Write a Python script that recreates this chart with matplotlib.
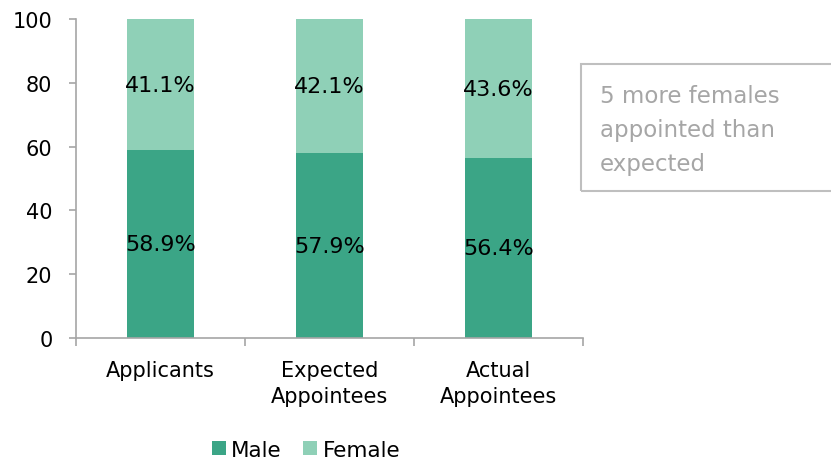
import matplotlib
matplotlib.use("Agg")
import matplotlib.pyplot as plt
import numpy as np
from matplotlib.patches import Rectangle

categories = ["Applicants", "Expected\nAppointees", "Actual\nAppointees"]
male = [58.9, 57.9, 56.4]
female = [41.1, 42.1, 43.6]
series_names = ["Male", "Female"]
yticks = [0, 20, 40, 60, 80, 100]
note = "5 more females\nappointed than\nexpected"

plt.rcParams['font.family'] = ['DejaVu Sans']
c_male = "#3BA586"
c_female = "#8FD0B7"
gray = "#A6A6A6"

fig = plt.figure(figsize=(8.31, 4.6), dpi=100)
ax = fig.add_axes([0.0915, 0.263, 0.61, 0.6935])
x = np.arange(len(categories))
w = 0.40
b1 = ax.bar(x, male, w, color=c_male, label=series_names[0])
b2 = ax.bar(x, female, w, bottom=male, color=c_female, label=series_names[1])
for i in range(len(x)):
    ax.text(x[i], male[i] / 2, f"{male[i]:.1f}%", ha="center", va="center", fontsize=16, color="black")
    ax.text(x[i], male[i] + female[i] / 2, f"{female[i]:.1f}%", ha="center", va="center", fontsize=16, color="black")

ax.set_xlim(-0.5, len(categories) - 0.5)
ax.set_ylim(0, 100)
ax.set_yticks(yticks)
ax.tick_params(axis="y", labelsize=15, length=5, color=gray, width=1.2, pad=12)
ax.set_xticks(x)
ax.set_xticklabels(categories, fontsize=15, linespacing=1.35)
ax.tick_params(axis="x", length=0, pad=16)
ax.set_xticks(np.arange(-0.5, len(categories), 1.0), minor=True)
ax.tick_params(axis="x", which="minor", length=6, color=gray, width=1.2)
for s in ["top", "right"]:
    ax.spines[s].set_visible(False)
for s in ["left", "bottom"]:
    ax.spines[s].set_color(gray)
    ax.spines[s].set_linewidth(1.2)

fig.text(0.722, 0.815, note, fontsize=16.5, color=gray, va="top", ha="left", linespacing=1.6)
fig.patches.append(Rectangle((0.699, 0.583), 0.31, 0.275, transform=fig.transFigure,
                             fill=False, edgecolor="#BFBFBF", linewidth=1.5))

fig.legend(handles=[b1, b2], labels=series_names, loc="center", bbox_to_anchor=(0.368, 0.02),
           ncol=2, frameon=False, fontsize=15.5, handlelength=0.65, handleheight=0.65,
           handletextpad=0.25, columnspacing=1.0)
fig.savefig("out.png", dpi=100)
